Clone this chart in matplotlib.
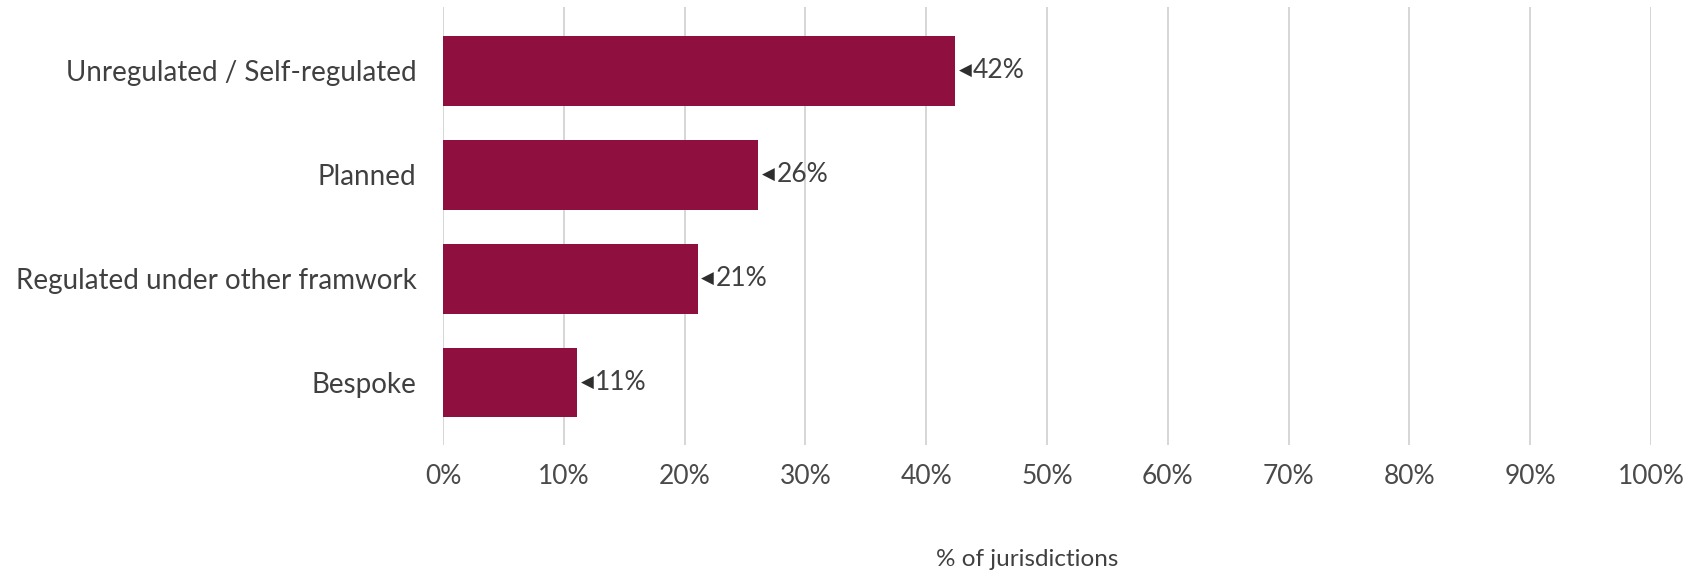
import matplotlib.pyplot as plt
import numpy as np

categories = ["Unregulated / Self-regulated", "Planned",
              "Regulated under other framwork", "Bespoke"]
values = [42.4, 26.1, 21.1, 11.1]
xticks = [0, 10, 20, 30, 40, 50, 60, 70, 80, 90, 100]

plt.rcParams['font.family'] = ['Lato', 'DejaVu Sans']
txt = '#404040'

fig = plt.figure(figsize=(17.03, 5.74), dpi=100)
ax = fig.add_axes([0.2601, 0.2247, 0.7093, 0.7631])

y = np.arange(len(categories))
ax.barh(y, values, height=0.67, color='#8f0f3e', zorder=3)

# value labels with a small pointer triangle
for yi, v in zip(y, values):
    ax.annotate('◀', xy=(v, yi), xytext=(2.5, 0), textcoords='offset points',
                ha='left', va='center', fontsize=12, color='#2e2e2e',
                family=['DejaVu Sans'])
    ax.annotate('%.0f%%' % v, xy=(v, yi), xytext=(13, 0), textcoords='offset points',
                ha='left', va='center', fontsize=19, color=txt)

ax.set_xlim(0, 100)
ax.set_ylim(3.6, -0.615)
ax.set_xticks(xticks)
ax.set_xticklabels(['%d%%' % t for t in xticks])
ax.set_yticks(y)
ax.set_yticklabels(categories)
ax.tick_params(axis='y', length=0, pad=19, labelsize=20, labelcolor=txt)
ax.tick_params(axis='x', length=0, pad=14, labelsize=19, labelcolor='#4a4a4a')

ax.grid(True, axis='x', color='#cccccc', lw=1.1, zorder=0)
for s in ax.spines.values():
    s.set_visible(False)

fig.text(0.603, 0.025, '% of jurisdictions', ha='center', va='center',
         fontsize=17.5, color=txt)

plt.savefig('out.png')
